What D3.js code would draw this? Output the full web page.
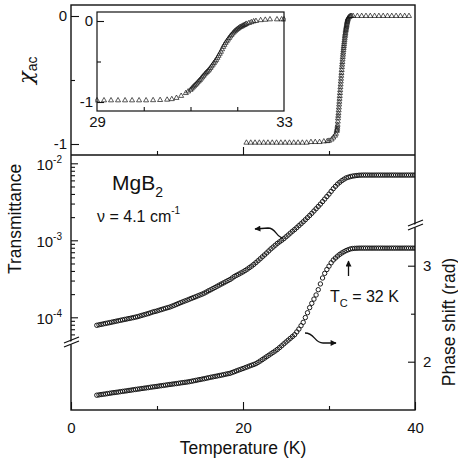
<!DOCTYPE html>
<html><head><meta charset="utf-8">
<script src="https://cdn.jsdelivr.net/npm/d3@7"></script>
<style>
body{margin:0;background:#fff}
svg{display:block;font-family:"Liberation Sans",Arial,Helvetica,sans-serif}
</style>
</head><body>
<svg id="c" width="458" height="466"></svg>
<script>
// ---------- DATA ----------
// Top panel: ac susceptibility chi_ac vs T [K, chi]
const chiMain = [
 [20.4,-0.99],[20.9,-0.99],[21.4,-0.99],[21.9,-0.99],[22.4,-0.99],[22.9,-0.99],[23.4,-0.99],[23.9,-0.99],[24.4,-0.99],[24.9,-0.99],
 [25.4,-0.99],[25.9,-0.99],[26.4,-0.99],[26.9,-0.99],[27.4,-0.99],[27.9,-0.985],[28.4,-0.985],[28.9,-0.985],[29.4,-0.98],[29.8,-0.978],
 [30.0,-0.975],[30.3,-0.965],[30.5,-0.95],[30.7,-0.935],[30.8,-0.92],[30.9,-0.9],[30.925,-0.89],[30.95,-0.88],[30.975,-0.865],[31.0,-0.85],
 [31.025,-0.825],[31.05,-0.8],[31.075,-0.78],[31.1,-0.76],[31.125,-0.737],[31.15,-0.715],[31.175,-0.692],[31.2,-0.67],[31.225,-0.647],[31.25,-0.625],
 [31.275,-0.602],[31.3,-0.58],[31.325,-0.557],[31.35,-0.535],[31.375,-0.512],[31.4,-0.49],[31.425,-0.467],[31.45,-0.445],[31.475,-0.422],[31.5,-0.4],
 [31.525,-0.38],[31.55,-0.36],[31.575,-0.34],[31.6,-0.32],[31.625,-0.302],[31.65,-0.285],[31.675,-0.267],[31.7,-0.25],[31.725,-0.235],[31.75,-0.22],
 [31.775,-0.205],[31.8,-0.19],[31.825,-0.175],[31.85,-0.16],[31.875,-0.147],[31.9,-0.135],[31.925,-0.122],[31.95,-0.11],[31.975,-0.1],[32.0,-0.09],
 [32.025,-0.08],[32.05,-0.07],[32.075,-0.06],[32.1,-0.05],[32.125,-0.042],[32.15,-0.035],[32.175,-0.027],[32.2,-0.02],[32.3,-0.01],[32.4,-0.005],
 [32.5,0],[32.6,0],[32.8,0],[33.3,0],[33.8,0],[34.3,0],[34.8,0],[35.3,0],[35.8,0],[36.3,0],[36.8,0],[37.3,0],[37.8,0],[38.3,0],[38.8,0],[39.3,0]];
// Inset: 29-33 K close-up [K, chi]
const chiInset = [
 [29.0,-0.98],[29.15,-0.98],[29.3,-0.98],[29.45,-0.98],[29.6,-0.98],[29.75,-0.98],[29.9,-0.98],[30.05,-0.98],[30.2,-0.978],[30.35,-0.976],
 [30.5,-0.972],[30.6,-0.965],[30.7,-0.95],[30.8,-0.925],[30.9,-0.89],[30.95,-0.87],[31.0,-0.85],[31.025,-0.835],[31.05,-0.82],[31.075,-0.805],
 [31.1,-0.79],[31.125,-0.775],[31.15,-0.76],[31.175,-0.745],[31.2,-0.73],[31.225,-0.712],[31.25,-0.695],[31.275,-0.677],[31.3,-0.66],[31.325,-0.645],
 [31.35,-0.63],[31.375,-0.615],[31.4,-0.6],[31.425,-0.58],[31.45,-0.56],[31.475,-0.54],[31.5,-0.52],[31.525,-0.5],[31.55,-0.48],[31.575,-0.455],
 [31.6,-0.43],[31.625,-0.405],[31.65,-0.38],[31.675,-0.35],[31.7,-0.32],[31.725,-0.295],[31.75,-0.27],[31.775,-0.25],[31.8,-0.23],[31.825,-0.21],
 [31.85,-0.19],[31.875,-0.172],[31.9,-0.155],[31.925,-0.14],[31.95,-0.125],[31.975,-0.112],[32.0,-0.1],[32.025,-0.09],[32.05,-0.08],[32.075,-0.072],
 [32.1,-0.065],[32.125,-0.057],[32.15,-0.05],[32.175,-0.042],[32.2,-0.035],[32.25,-0.025],[32.3,-0.015],[32.35,-0.005],[32.4,0],[32.5,0.01],
 [32.6,0.015],[32.7,0.02],[32.85,0.02],[32.95,0.02],[33.0,0.02]];
// Bottom panel: transmittance (left log axis) [K, T]
const transmittance = [
 [3,7.87e-5],[3.25,7.98e-5],[3.5,8.09e-5],[3.75,8.2e-5],[4,8.32e-5],[4.25,8.42e-5],[4.5,8.53e-5],[4.75,8.65e-5],[5,8.77e-5],[5.25,8.9e-5],
 [5.5,9.02e-5],[5.75,9.14e-5],[6,9.27e-5],[6.25,9.39e-5],[6.5,9.51e-5],[6.75,9.64e-5],[7,9.77e-5],[7.25,9.91e-5],[7.5,1.005e-4],[7.75,1.02e-4],
 [8,1.04e-4],[8.25,1.06e-4],[8.5,1.08e-4],[8.75,1.10e-4],[9,1.12e-4],[9.25,1.145e-4],[9.5,1.17e-4],[9.75,1.19e-4],[10,1.21e-4],[10.25,1.235e-4],
 [10.5,1.26e-4],[10.75,1.285e-4],[11,1.31e-4],[11.25,1.335e-4],[11.5,1.36e-4],[11.75,1.395e-4],[12,1.43e-4],[12.25,1.47e-4],[12.5,1.51e-4],[12.75,1.55e-4],
 [13,1.59e-4],[13.25,1.63e-4],[13.5,1.67e-4],[13.75,1.715e-4],[14,1.76e-4],[14.25,1.805e-4],[14.5,1.85e-4],[14.75,1.90e-4],[15,1.95e-4],[15.25,2.00e-4],
 [15.5,2.06e-4],[15.75,2.13e-4],[16,2.21e-4],[16.25,2.28e-4],[16.5,2.36e-4],[16.75,2.44e-4],[17,2.53e-4],[17.25,2.62e-4],[17.5,2.71e-4],[17.75,2.80e-4],
 [18,2.90e-4],[18.25,3.00e-4],[18.5,3.10e-4],[18.75,3.24e-4],[19,3.39e-4],[19.25,3.51e-4],[19.5,3.63e-4],[19.75,3.76e-4],[20,3.89e-4],[20.25,4.05e-4],
 [20.5,4.22e-4],[20.75,4.42e-4],[21,4.62e-4],[21.25,4.86e-4],[21.5,5.13e-4],[21.75,5.43e-4],[22,5.75e-4],[22.25,6.10e-4],[22.5,6.46e-4],[22.75,6.85e-4],
 [23,7.28e-4],[23.25,7.74e-4],[23.5,8.17e-4],[23.75,8.63e-4],[24,9.12e-4],[24.25,9.55e-4],[24.5,1.00e-3],[24.75,1.05e-3],[25,1.11e-3],[25.25,1.17e-3],
 [25.5,1.24e-3],[25.75,1.31e-3],[26,1.38e-3],[26.25,1.46e-3],[26.5,1.55e-3],[26.75,1.64e-3],[27,1.74e-3],[27.25,1.85e-3],[27.5,1.97e-3],[27.75,2.10e-3],
 [28,2.24e-3],[28.25,2.40e-3],[28.5,2.57e-3],[28.75,2.75e-3],[29,2.95e-3],[29.25,3.18e-3],[29.5,3.43e-3],[29.75,3.70e-3],[30,3.98e-3],[30.25,4.32e-3],
 [30.5,4.68e-3],[30.75,5.02e-3],[31,5.37e-3],[31.25,5.67e-3],[31.5,5.96e-3],[31.75,6.22e-3],[32,6.46e-3],[32.25,6.60e-3],[32.5,6.73e-3],[32.75,6.82e-3],
 [33,6.89e-3],[33.25,6.95e-3],[33.5,7.00e-3],[33.75,7.02e-3],[34,7.03e-3],[34.25,7.03e-3],[34.5,7.03e-3],[34.75,7.03e-3],[35,7.03e-3],[35.25,7.03e-3],
 [35.5,7.03e-3],[35.75,7.03e-3],[36,7.03e-3],[36.25,7.03e-3],[36.5,7.03e-3],[36.75,7.03e-3],[37,7.03e-3],[37.25,7.03e-3],[37.5,7.03e-3],[37.75,7.03e-3],
 [38,7.03e-3],[38.25,7.03e-3],[38.5,7.03e-3],[38.75,7.03e-3],[39,7.03e-3],[39.25,7.03e-3],[39.5,7.03e-3],[39.75,7.03e-3],[40,7.03e-3]];
// Bottom panel: phase shift (right axis) [K, rad]
const phaseShift = [
 [3,1.651],[3.25,1.654],[3.5,1.658],[3.75,1.661],[4,1.664],[4.25,1.668],[4.5,1.671],[4.75,1.675],[5,1.678],[5.25,1.681],
 [5.5,1.684],[5.75,1.688],[6,1.691],[6.25,1.694],[6.5,1.697],[6.75,1.701],[7,1.704],[7.25,1.708],[7.5,1.711],[7.75,1.714],
 [8,1.717],[8.25,1.721],[8.5,1.724],[8.75,1.727],[9,1.730],[9.25,1.734],[9.5,1.737],[9.75,1.740],[10,1.743],[10.25,1.747],
 [10.5,1.750],[10.75,1.753],[11,1.756],[11.25,1.760],[11.5,1.763],[11.75,1.766],[12,1.769],[12.25,1.772],[12.5,1.775],[12.75,1.779],
 [13,1.782],[13.25,1.785],[13.5,1.788],[13.75,1.792],[14,1.796],[14.25,1.801],[14.5,1.805],[14.75,1.810],[15,1.814],[15.25,1.819],
 [15.5,1.823],[15.75,1.828],[16,1.833],[16.25,1.838],[16.5,1.842],[16.75,1.847],[17,1.851],[17.25,1.856],[17.5,1.860],[17.75,1.865],
 [18,1.870],[18.25,1.875],[18.5,1.879],[18.75,1.888],[19,1.896],[19.25,1.905],[19.5,1.913],[19.75,1.921],[20,1.929],[20.25,1.938],
 [20.5,1.946],[20.75,1.955],[21,1.963],[21.25,1.971],[21.5,1.980],[21.75,1.993],[22,2.007],[22.25,2.022],[22.5,2.037],[22.75,2.052],
 [23,2.067],[23.25,2.082],[23.5,2.097],[23.75,2.112],[24,2.128],[24.25,2.147],[24.5,2.166],[24.75,2.186],[25,2.205],[25.25,2.224],
 [25.5,2.243],[25.75,2.262],[26,2.281],[26.25,2.31],[26.5,2.34],[26.75,2.375],[27,2.41],[27.25,2.46],[27.5,2.51],[27.75,2.563],
 [28,2.608],[28.25,2.652],[28.5,2.695],[28.75,2.75],[29,2.81],[29.25,2.872],[29.5,2.92],[29.75,2.96],[30,2.995],[30.25,3.03],
 [30.5,3.059],[30.75,3.08],[31,3.10],[31.25,3.118],[31.5,3.133],[31.75,3.146],[32,3.158],[32.25,3.167],[32.5,3.175],[32.75,3.179],
 [33,3.181],[33.25,3.182],[33.5,3.183],[33.75,3.183],[34,3.183],[34.25,3.183],[34.5,3.183],[34.75,3.183],[35,3.183],[35.25,3.183],
 [35.5,3.183],[35.75,3.183],[36,3.183],[36.25,3.183],[36.5,3.183],[36.75,3.183],[37,3.183],[37.25,3.183],[37.5,3.183],[37.75,3.183],
 [38,3.183],[38.25,3.183],[38.5,3.183],[38.75,3.183],[39,3.183],[39.25,3.183],[39.5,3.183],[39.75,3.183],[40,3.183]];
// tick values
const chiTicks = [0, -1];
const insetXLabels = [29, 33];
const xLabels = [0, 20, 40];
const transMajors = [1e-2, 1e-3, 1e-4];
const phaseTicks = [2, 3];

// ---------- LAYOUT ----------
const svg = d3.select("#c");
const X0 = 71, X1 = 415, YT = 5, YM = 155, YB = 410;
const x  = d3.scaleLinear([0, 40], [X0, X1]);
const yChi = d3.scaleLinear([-1, 0], [144, 16]);
const xi = d3.scaleLinear([29, 33], [97, 284]);
const yi = d3.scaleLinear([-1, 0], [102, 21]);
const yT = d3.scaleLog([1e-4, 1e-2], [317.3, 163.3]);
const yP = d3.scaleLinear([2, 3], [361.7, 265.7]);

const defs = svg.append("defs");
defs.append("clipPath").attr("id","cTop").append("rect").attr("x",X0).attr("y",YT).attr("width",X1-X0).attr("height",YM-YT);
defs.append("clipPath").attr("id","cBot").append("rect").attr("x",X0).attr("y",YM).attr("width",X1-X0).attr("height",YB-YM);
defs.append("clipPath").attr("id","cIns").append("rect").attr("x",95).attr("y",12).attr("width",191).attr("height",99);

const ink = "#111";
const tri = d3.symbol(d3.symbolTriangle).size(11);

// ---------- TOP PANEL DATA ----------
svg.append("g").attr("clip-path","url(#cTop)")
  .selectAll("path").data(chiMain).join("path")
  .attr("d", tri)
  .attr("transform", d=>`translate(${x(d[0])},${yChi(d[1])})`)
  .attr("fill","none").attr("stroke",ink).attr("stroke-width",0.7);

// inset
svg.append("rect").attr("x",97).attr("y",12).attr("width",187).attr("height",99)
  .attr("fill","#fff").attr("stroke",ink).attr("stroke-width",1.2);
svg.append("g").attr("clip-path","url(#cIns)")
  .selectAll("path").data(chiInset).join("path")
  .attr("d", tri)
  .attr("transform", d=>`translate(${xi(d[0])},${yi(d[1])})`)
  .attr("fill","none").attr("stroke",ink).attr("stroke-width",0.7);

// ---------- BOTTOM PANEL DATA ----------
const gb = svg.append("g").attr("clip-path","url(#cBot)");
gb.selectAll("circle.t").data(transmittance).join("circle").attr("class","t")
  .attr("cx", d=>x(d[0])).attr("cy",d=>yT(d[1])).attr("r",2.2)
  .attr("fill","none").attr("stroke",ink).attr("stroke-width",0.95);
gb.selectAll("circle.p").data(phaseShift).join("circle").attr("class","p")
  .attr("cx", d=>x(d[0])).attr("cy",d=>yP(d[1])).attr("r",2.2)
  .attr("fill","none").attr("stroke",ink).attr("stroke-width",0.95);

// ---------- AXES ----------
function clean(g){ g.select(".domain").remove(); g.selectAll("line").attr("stroke",ink).attr("stroke-width",1.1); g.selectAll("text").attr("fill",ink).style("font-family",'"Liberation Sans",Arial,sans-serif'); }
const fs = 15;

// top panel left
svg.append("g").attr("transform",`translate(${X0},0)`)
  .call(d3.axisLeft(yChi).tickValues(chiTicks).tickSize(-8).tickPadding(4).tickFormat(d=>d===0?"0":"-1"))
  .call(clean).selectAll("text").attr("font-size",fs);
svg.append("g").attr("transform",`translate(${X0},0)`)
  .call(d3.axisLeft(yChi).tickValues([-0.5]).tickSize(-4).tickFormat(""))
  .call(clean);
// x ticks at top-panel bottom (pointing up)
svg.append("g").attr("transform",`translate(0,${YM})`)
  .call(d3.axisBottom(x).tickValues([20]).tickSize(-8).tickFormat("")).call(clean);
svg.append("g").attr("transform",`translate(0,${YM})`)
  .call(d3.axisBottom(x).tickValues([10,30]).tickSize(-4).tickFormat("")).call(clean);

// inset axes
svg.append("g").attr("transform",`translate(97,0)`)
  .call(d3.axisLeft(yi).tickValues(chiTicks).tickSize(-7).tickPadding(4).tickFormat(d=>d===0?"0":"-1"))
  .call(clean).selectAll("text").attr("font-size",fs);
svg.append("g").attr("transform",`translate(97,0)`)
  .call(d3.axisLeft(yi).tickValues([-0.5]).tickSize(-4).tickFormat("")).call(clean);
svg.append("g").attr("transform",`translate(0,111)`)
  .call(d3.axisBottom(xi).tickValues([30,31,32]).tickSize(-4).tickFormat("")).call(clean);
svg.append("g").attr("transform",`translate(0,111)`)
  .call(d3.axisBottom(xi).tickValues(insetXLabels).tickSize(0).tickPadding(5).tickFormat(d3.format("d")))
  .call(clean).selectAll("text").attr("font-size",fs);

// bottom x axis
svg.append("g").attr("transform",`translate(0,${YB})`)
  .call(d3.axisBottom(x).tickValues(xLabels).tickSize(-8).tickPadding(12).tickFormat(d3.format("d")))
  .call(clean).selectAll("text").attr("font-size",fs);
svg.append("g").attr("transform",`translate(0,${YB})`)
  .call(d3.axisBottom(x).tickValues([10,30]).tickSize(-4).tickFormat("")).call(clean);

// left log axis
const minors = [2e-3,3e-3,4e-3,5e-3,6e-3,7e-3,8e-3,9e-3,2e-4,3e-4,4e-4,5e-4,6e-4,7e-4,8e-4,9e-4,6e-5,7e-5,8e-5,9e-5];
const gL = svg.append("g").attr("transform",`translate(${X0},0)`)
  .call(d3.axisLeft(yT).tickValues(transMajors).tickSize(-7).tickPadding(8).tickFormat(""))
  .call(clean);
svg.append("g").attr("transform",`translate(${X0},0)`)
  .call(d3.axisLeft(yT).tickValues(minors).tickSize(-4).tickFormat("")).call(clean);
gL.selectAll(".tick").each(function(d){
  const t = d3.select(this).append("text").attr("x",-9).attr("y",6).attr("text-anchor","end").attr("fill",ink).attr("font-size",fs);
  t.append("tspan").text("10");
  t.append("tspan").attr("font-size",10).attr("dy",-7).text("-" + Math.round(-Math.log10(d)));
});

// right phase axis
svg.append("g").attr("transform",`translate(${X1},0)`)
  .call(d3.axisRight(yP).tickValues(phaseTicks).tickSize(-7).tickPadding(8).tickFormat(d3.format("d")))
  .call(clean).selectAll("text").attr("font-size",fs);
svg.append("g").attr("transform",`translate(${X1},0)`)
  .call(d3.axisRight(yP).tickValues([2.5]).tickSize(-4).tickFormat("")).call(clean);

// ---------- FRAME ----------
svg.append("rect").attr("x",X0).attr("y",YT).attr("width",X1-X0).attr("height",YB-YT)
  .attr("fill","none").attr("stroke",ink).attr("stroke-width",1.4);
svg.append("line").attr("x1",X0).attr("x2",X1).attr("y1",YM).attr("y2",YM)
  .attr("stroke",ink).attr("stroke-width",1.4);

// axis breaks
function brk(cx, cy){
  svg.append("polygon").attr("points",`${cx-6},${cy+3} ${cx+6},${cy-2} ${cx+6},${cy+1} ${cx-6},${cy+6}`)
    .attr("fill","#fff");
  [0,4].forEach(o=>svg.append("line")
    .attr("x1",cx-7).attr("y1",cy+3+o-1).attr("x2",cx+8).attr("y2",cy-3+o-1)
    .attr("stroke",ink).attr("stroke-width",1.2));
}
brk(X0, 341);
brk(X1, 224);

// ---------- TEXT ----------
const tx = svg.append("g").attr("fill",ink);
const chiLab = tx.append("text").attr("transform","translate(33,84) rotate(-90)").attr("font-size",21);
chiLab.append("tspan").style("font-family",'"DejaVu Serif","DejaVu Sans",serif').attr("font-style","italic").text("χ");
chiLab.append("tspan").attr("font-size",14).attr("dy",4).text("ac");
tx.append("text").attr("transform","translate(21,219) rotate(-90)").attr("text-anchor","middle")
  .attr("font-size",17.5).text("Transmittance");
tx.append("text").attr("transform","translate(455,322) rotate(-90)").attr("text-anchor","middle")
  .attr("font-size",17.5).text("Phase shift (rad)");
tx.append("text").attr("x",243).attr("y",454).attr("text-anchor","middle")
  .attr("font-size",17.5).text("Temperature (K)");

const mg = tx.append("text").attr("x",112).attr("y",190).attr("font-size",21);
mg.append("tspan").text("MgB");
mg.append("tspan").attr("font-size",14).attr("dy",7).text("2");

const nu = tx.append("text").attr("x",97).attr("y",222).attr("font-size",16);
nu.append("tspan").text("ν = 4.1 cm");
nu.append("tspan").attr("font-size",10).attr("dy",-8).text("-1");

const tc = tx.append("text").attr("x",330).attr("y",302).attr("font-size",16);
tc.append("tspan").text("T");
tc.append("tspan").attr("font-size",11).attr("dy",5).text("C");
tc.append("tspan").attr("dy",-5).text(" = 32 K");

// arrows
defs.append("marker").attr("id","ah").attr("viewBox","0 0 10 10").attr("refX",9).attr("refY",5)
  .attr("markerWidth",7).attr("markerHeight",6).attr("orient","auto").attr("markerUnits","userSpaceOnUse")
  .append("path").attr("d","M0,0 L10,5 L0,10 Z").attr("fill",ink);
svg.append("line").attr("x1",348.5).attr("y1",276).attr("x2",348.5).attr("y2",261)
  .attr("stroke",ink).attr("stroke-width",1.3).attr("marker-end","url(#ah)");
svg.append("path").attr("d","M283,238 C276,237 276,228 268,228 L255,229")
  .attr("fill","none").attr("stroke",ink).attr("stroke-width",1.3).attr("marker-end","url(#ah)");
svg.append("path").attr("d","M305,333 C315,333 314,343 323,343 L336,343")
  .attr("fill","none").attr("stroke",ink).attr("stroke-width",1.3).attr("marker-end","url(#ah)");
</script>
</body></html>
